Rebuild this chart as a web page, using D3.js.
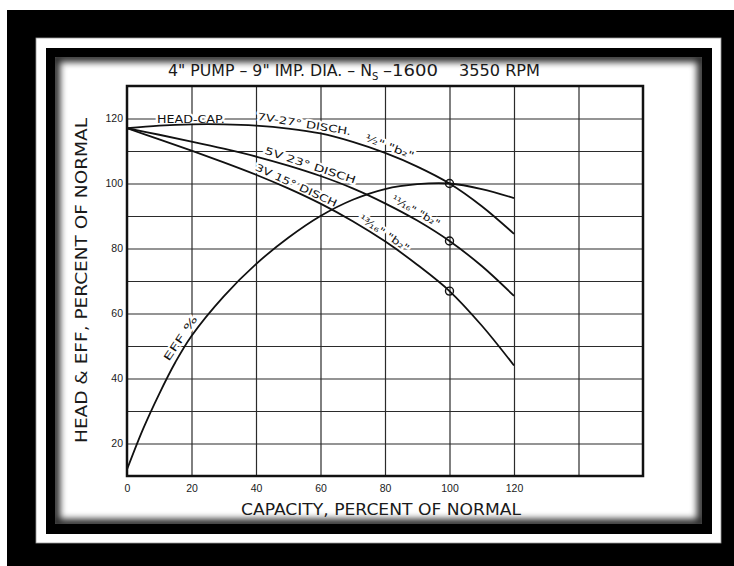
<!DOCTYPE html>
<html lang="en">
<head>
<meta charset="UTF-8">
<meta name="viewport" content="width=device-width, initial-scale=1.0">
<title>4" Pump characteristic</title>
<script src="https://d3js.org/d3.v7.min.js"></script>
<style>
    html, body { margin: 0; padding: 0; background: #fff; }
    svg { display: block; font-family: "DejaVu Sans", sans-serif; white-space: pre; }
    .grid line { stroke: #2b2b2b; stroke-width: 1.2px; }
    .grid .domain { display: none; }
    .axis .domain { display: none; }
    .axis text { font-size: 10.5px; fill: #1a1a1a; }
    .curve { fill: none; stroke: #111; stroke-width: 1.8px; }
    .note { font-size: 10px; fill: #111; stroke: #fff; stroke-width: 4px; paint-order: stroke; stroke-linejoin: round; }
    .big { fill: #1a1a1a; }
</style>
</head>
<body>
<div id="chart"></div>
<script>
// capacity, percent of normal
const capacity = [0, 10, 20, 30, 40, 50, 60, 70, 80, 90, 100, 110, 120];
// head-capacity curves, percent of normal head
const head7v = [117, 117.8, 118.2, 118.2, 117.8, 116.9, 115.4, 112.8, 109.4, 105.2, 100, 93, 84.5];
const head5v = [117, 115.0, 112.9, 110.7, 108.3, 105.5, 102.3, 98.5, 93.9, 88.6, 82.3, 74.6, 65.4];
const head3v = [117, 113.6, 110.1, 106.5, 102.7, 98.5, 93.8, 88.4, 82.2, 75.0, 66.9, 56.3, 44];
// efficiency curve
const effCapacity = [0, 5, 10, 15, 20, 30, 40, 50, 60, 70, 80, 90, 100, 110, 120];
const efficiency = [12, 24.5, 35.3, 45, 53.1, 65.3, 75.2, 83.3, 90, 95, 98.3, 99.8, 100, 98.3, 95.5];
// rated points (circles) at normal capacity
const ratedCapacity = 100;
const ratedHead = [100, 82.3, 66.9];

const xTickLabels = [0, 20, 40, 60, 80, 100, 120];
const yTickLabels = [20, 40, 60, 80, 100, 120];
const xGrid = [20, 40, 60, 80, 100, 120, 140];
const yGrid = [20, 30, 40, 50, 60, 70, 80, 90, 100, 110, 120];

const width = 734, height = 566;
const plot = {left: 127, right: 643, top: 86, bottom: 476};

const x = d3.scaleLinear().domain([0, 160]).range([plot.left, plot.right]);
const y = d3.scaleLinear().domain([10, 130]).range([plot.bottom, plot.top]);

const svg = d3.select("#chart").append("svg")
    .attr("width", width)
    .attr("height", height);

// ---- picture frame ----
const defs = svg.append("defs");
defs.append("filter").attr("id", "soft")
    .attr("x", "-5%").attr("y", "-5%").attr("width", "110%").attr("height", "110%")
  .append("feGaussianBlur").attr("stdDeviation", 3.5);
defs.append("clipPath").attr("id", "inner")
  .append("rect").attr("x", 55).attr("y", 57).attr("width", 647).attr("height", 467);

svg.append("rect").attr("width", width).attr("height", height).attr("fill", "#fff");
svg.append("rect").attr("x", 7).attr("y", 10).attr("width", 727).attr("height", 556).attr("fill", "#000");
svg.append("rect").attr("x", 36).attr("y", 38).attr("width", 685).attr("height", 505)
    .attr("fill", "#fff").attr("stroke", "#999").attr("stroke-width", 0.8);
svg.append("rect").attr("x", 46).attr("y", 48).attr("width", 666).attr("height", 486).attr("fill", "#000");
svg.append("rect").attr("x", 55).attr("y", 57).attr("width", 647).attr("height", 467).attr("fill", "#fff");
svg.append("g").attr("clip-path", "url(#inner)")
  .append("rect").attr("x", 55).attr("y", 57).attr("width", 647).attr("height", 467)
    .attr("fill", "none").attr("stroke", "#000").attr("stroke-width", 10)
    .attr("opacity", 0.85).attr("filter", "url(#soft)");

// ---- grid ----
svg.append("g")
    .attr("class", "grid")
    .attr("transform", "translate(0," + plot.bottom + ")")
    .call(d3.axisBottom(x).tickValues(xGrid).tickSize(-(plot.bottom - plot.top)).tickFormat(""));

svg.append("g")
    .attr("class", "grid")
    .attr("transform", "translate(" + plot.left + ",0)")
    .call(d3.axisLeft(y).tickValues(yGrid).tickSize(-(plot.right - plot.left)).tickFormat(""));

// ---- tick labels ----
svg.append("g")
    .attr("class", "axis")
    .attr("transform", "translate(0," + plot.bottom + ")")
    .call(d3.axisBottom(x).tickValues(xTickLabels).tickSize(0).tickPadding(9))
    .selectAll("line").remove();

svg.append("g")
    .attr("class", "axis")
    .attr("transform", "translate(" + plot.left + ",0)")
    .call(d3.axisLeft(y).tickValues(yTickLabels).tickSize(0).tickPadding(4))
    .selectAll("line").remove();

// ---- curve notes (white halo hides the grid, curves are drawn over them) ----
const notes = [
    {text: "7V-27° DISCH.", cap: capacity, val: head7v, from: 40, to: 69, off: 6},
    {text: "½\" \"b₂\"", cap: capacity, val: head7v, from: 73, to: 88, off: 5},
    {text: "5V 23° DISCH", cap: capacity, val: head5v, from: 42, to: 70, off: 5},
    {text: "3V 15° DISCH", cap: capacity, val: head3v, from: 39, to: 64, off: 4},
    {text: "¹¹⁄₁₆\" \"b₂\"", cap: capacity, val: head5v, from: 81, to: 95.5, off: 5},
    {text: "¹³⁄₁₆\" \"b₂\"", cap: capacity, val: head3v, from: 71, to: 86, off: 4},
    {text: "EFF %", cap: effCapacity, val: efficiency, from: 14.5, to: 23.5, off: 6}
];

notes.forEach(n => {
    const f = d3.scaleLinear().domain(n.cap).range(n.val);
    const x0 = x(n.from), y0 = y(f(n.from));
    const x1 = x(n.to), y1 = y(f(n.to));
    const a = Math.atan2(y1 - y0, x1 - x0);
    const len = Math.hypot(x1 - x0, y1 - y0);
    const px = x0 + Math.sin(a) * n.off;
    const py = y0 - Math.cos(a) * n.off;
    svg.append("text")
        .attr("class", "note")
        .attr("transform", "translate(" + px + "," + py + ") rotate(" + (a * 180 / Math.PI) + ")")
        .attr("textLength", len)
        .attr("lengthAdjust", "spacingAndGlyphs")
        .text(n.text);
});

// label sitting on the 120 grid line
svg.append("text")
    .attr("class", "note")
    .attr("x", x(9.3))
    .attr("y", y(120) + 4)
    .attr("textLength", x(30.3) - x(9.3))
    .attr("lengthAdjust", "spacingAndGlyphs")
    .text("HEAD-CAP.");

// ---- curves ----
const line = d3.line()
    .x(d => x(d[0]))
    .y(d => y(d[1]))
    .curve(d3.curveCatmullRom.alpha(0.5));

[head7v, head5v, head3v].forEach(h => {
    svg.append("path")
        .attr("class", "curve")
        .attr("d", line(d3.zip(capacity, h)));
});
svg.append("path")
    .attr("class", "curve")
    .attr("d", line(d3.zip(effCapacity, efficiency)));

svg.selectAll("circle.rated")
    .data(ratedHead)
    .enter().append("circle")
    .attr("class", "rated")
    .attr("cx", x(ratedCapacity))
    .attr("cy", d => y(d))
    .attr("r", 4)
    .attr("fill", "none")
    .attr("stroke", "#111")
    .attr("stroke-width", 1.4);

// ---- plot border ----
svg.append("rect")
    .attr("x", plot.left).attr("y", plot.top)
    .attr("width", plot.right - plot.left).attr("height", plot.bottom - plot.top)
    .attr("fill", "none").attr("stroke", "#111").attr("stroke-width", 2.5);

// ---- titles ----
svg.append("text").attr("class", "big").attr("x", 168).attr("y", 76).style("font-size", "15px")
    .attr("textLength", 204).attr("lengthAdjust", "spacingAndGlyphs")
    .text("4\" PUMP – 9\" IMP. DIA. – N");
svg.append("text").attr("class", "big").attr("x", 372).attr("y", 80).style("font-size", "10px").text("S");
svg.append("text").attr("class", "big").attr("x", 383).attr("y", 76).style("font-size", "15px")
    .attr("textLength", 55).attr("lengthAdjust", "spacingAndGlyphs").text("–1600");
svg.append("text").attr("class", "big").attr("x", 459).attr("y", 76).style("font-size", "15px")
    .attr("textLength", 81).attr("lengthAdjust", "spacingAndGlyphs").text("3550 RPM");

svg.append("text").attr("class", "big")
    .attr("x", 241).attr("y", 515)
    .style("font-size", "16px")
    .attr("textLength", 280).attr("lengthAdjust", "spacingAndGlyphs")
    .text("CAPACITY, PERCENT OF NORMAL");

svg.append("text").attr("class", "big")
    .attr("transform", "translate(87,443) rotate(-90)")
    .style("font-size", "16px")
    .attr("textLength", 325).attr("lengthAdjust", "spacingAndGlyphs")
    .text("HEAD & EFF, PERCENT OF NORMAL");
</script>
</body>
</html>
